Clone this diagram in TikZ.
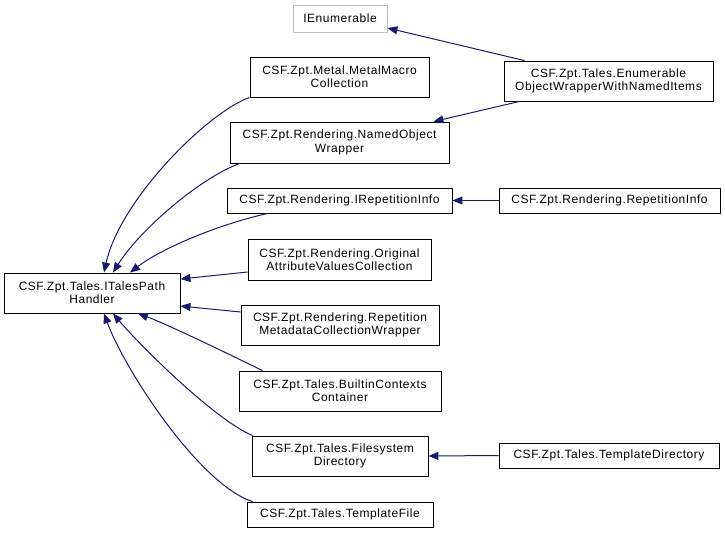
\documentclass[tikz,border=0pt]{standalone}
\usepackage{fontspec}
\setmainfont[LetterSpace=4.5]{Liberation Sans}
\usetikzlibrary{arrows.meta,calc}
\definecolor{edgecol}{RGB}{25,25,112}
\definecolor{extcol}{RGB}{191,191,191}

\begin{document}
\begin{tikzpicture}[
  x=1pt, y=-1pt,
  cls/.style={rectangle, draw=black, line width=0.9pt, fill=white,
              align=center, inner sep=0pt,
              font=\fontsize{12}{13.3}\selectfont},
  ext/.style={cls, draw=extcol},
  inh/.style={edgecol, line width=1pt},
  >={Triangle[length=10pt,width=8pt]}
]
  \useasboundingbox (0,0) rectangle (725,533);

  % Base classes
  \node[cls, minimum width=176pt, minimum height=40pt] (handler) at (92,293)
    {CSF.Zpt.Tales.ITalesPath\\Handler};
  \node[ext, minimum width=94pt, minimum height=27pt] (enum) at (340,18.5)
    {IEnumerable};

  % Derived classes, middle column
  \node[cls, minimum width=179pt, minimum height=40pt] (metal) at (339.5,77)
    {CSF.Zpt.Metal.MetalMacro\\Collection};
  \node[cls, minimum width=219pt, minimum height=41pt] (named) at (339.5,142.5)
    {CSF.Zpt.Rendering.NamedObject\\Wrapper};
  \node[cls, minimum width=225pt, minimum height=25pt] (irep) at (339.5,200.5)
    {CSF.Zpt.Rendering.IRepetitionInfo};
  \node[cls, minimum width=183pt, minimum height=41pt] (orig) at (339.5,259.5)
    {CSF.Zpt.Rendering.Original\\AttributeValuesCollection};
  \node[cls, minimum width=198pt, minimum height=40pt] (meta) at (340,325)
    {CSF.Zpt.Rendering.Repetition\\MetadataCollectionWrapper};
  \node[cls, minimum width=202pt, minimum height=40pt] (builtin) at (340,391)
    {CSF.Zpt.Tales.BuiltinContexts\\Container};
  \node[cls, minimum width=176pt, minimum height=40pt] (fsdir) at (340,456)
    {CSF.Zpt.Tales.Filesystem\\Directory};
  \node[cls, minimum width=186pt, minimum height=25pt] (tfile) at (340,514.5)
    {CSF.Zpt.Tales.TemplateFile};

  % Derived classes, right column
  \node[cls, minimum width=209pt, minimum height=40pt] (ewrap) at (608.5,81)
    {CSF.Zpt.Tales.Enumerable\\ObjectWrapperWithNamedItems};
  \node[cls, minimum width=221pt, minimum height=25pt] (rep) at (609.5,200.5)
    {CSF.Zpt.Rendering.RepetitionInfo};
  \node[cls, minimum width=220pt, minimum height=25pt] (tdir) at (609,455.5)
    {CSF.Zpt.Tales.TemplateDirectory};

  % Inheritance into the handler interface
  \draw[inh,->] (metal.south west)
    .. controls +(-42,15) and +(16,-73) .. ($(handler.north)+(12,0)$);
  \draw[inh,->] ($(named.south west)+(10,0)$)
    .. controls +(-40,15) and +(27,-43) .. ($(handler.north)+(21,0)$);
  \draw[inh,->] ($(irep.south west)+(41,0)$)
    .. controls +(-53,12) and +(30,-23) .. ($(handler.north)+(38,0)$);
  \draw[inh,->] ($(orig.west)+(0,12.5)$) -- ($(handler.east)+(0,-14)$);
  \draw[inh,->] ($(meta.west)+(0,-13)$) -- ($(handler.east)+(0,13)$);
  \draw[inh,->] ($(builtin.north west)+(24,0)$)
    .. controls +(-33,-16) and +(32,12) .. ($(handler.south)+(46,0)$);
  \draw[inh,->] ($(fsdir.north west)+(1,0)$)
    .. controls +(-38,-16) and +(27,32) .. ($(handler.south)+(21,0)$);
  \draw[inh,->] ($(tfile.north west)+(6,0)$)
    .. controls +(-53,-17) and +(21,57) .. ($(handler.south)+(12,0)$);

  % Other inheritance
  \draw[inh,->] ($(ewrap.north west)+(21,0)$) -- ($(enum.east)+(0,9.5)$);
  \draw[inh,->] ($(ewrap.south west)+(16,0)$) -- ($(named.north east)+(-16,0)$);
  \draw[inh,->] (rep.west) -- (irep.east);
  \draw[inh,->] (tdir.west) -- (fsdir.east);
\end{tikzpicture}
\end{document}
